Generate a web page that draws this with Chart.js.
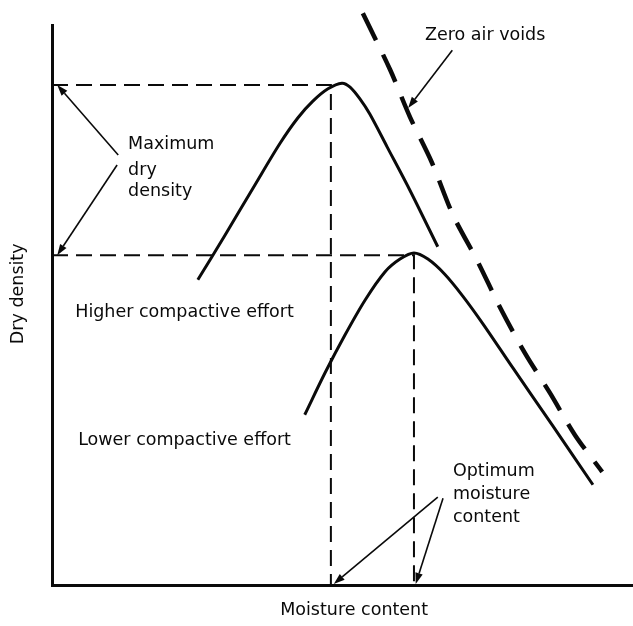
<!DOCTYPE html>
<html>
<head>
<meta charset="utf-8">
<script src="https://cdn.jsdelivr.net/npm/chart.js@4/dist/chart.umd.min.js"></script>
<style>
  html, body { margin: 0; padding: 0; background: #fff; }
  #wrap { width: 633px; height: 626px; }
</style>
</head>
<body>
<div id="wrap"><canvas id="c" width="633" height="626"></canvas></div>
<script>
// ---- Data (arbitrary units: moisture content 0-100, dry density 0-100) ----
const highMoisture = [25.1, 29.8, 34.9, 39.2, 42.3, 44.9, 47.5, 49.9, 51.3, 53.0, 54.7, 57.7, 61.6, 66.4];
const highDensity  = [54.5, 62.5, 71.4, 78.8, 83.4, 86.4, 88.6, 89.6, 88.9, 86.8, 84.1, 78.2, 70.5, 60.4];

const lowMoisture  = [43.5, 47.0, 50.4, 53.9, 57.3, 59.9, 62.3, 64.7, 67.6, 70.7, 74.2, 79.3, 86.2, 93.1];
const lowDensity   = [30.4, 37.9, 44.6, 50.9, 55.9, 58.2, 59.3, 58.2, 55.5, 51.6, 46.6, 38.8, 28.4, 17.9];

const zavMoisture  = [53.5, 58.2, 61.6, 65.4, 69.0, 73.3, 77.1, 81.4, 85.7, 90.0, 94.7];
const zavDensity   = [102.1, 92.0, 83.6, 75.4, 66.1, 57.7, 49.6, 41.4, 34.3, 26.8, 20.2];

const maxDryDensity   = [89.3, 58.9];   // higher effort, lower effort
const optimumMoisture = [48.0, 62.3];

const xTitle = "Moisture content";
const yTitle = "Dry density";

// ---- Helpers ----
const pts = (xs, ys) => xs.map((x, i) => ({ x: x, y: ys[i] }));
const guide = i => [
  { x: 0, y: maxDryDensity[i] },
  { x: optimumMoisture[i], y: maxDryDensity[i] },
  { x: optimumMoisture[i], y: 0 }
];

const FONT = '17.5px "DejaVu Sans", sans-serif';
const INK = '#0a0a0a';

// annotation layout (in data units)
const labels = [
  { text: "Zero air voids", x: 64.2, y: 98.2 },
  { text: "Maximum", x: 13.1, y: 78.6 },
  { text: "dry", x: 13.1, y: 74.1 },
  { text: "density", x: 13.1, y: 70.2 },
  { text: "Higher compactive effort", x: 4.0, y: 48.6 },
  { text: "Lower compactive effort", x: 4.5, y: 25.9 },
  { text: "Optimum", x: 69.0, y: 20.2 },
  { text: "moisture", x: 69.0, y: 16.1 },
  { text: "content", x: 69.0, y: 12.0 }
];
const arrows = [
  { from: [68.9, 95.5], to: [61.3, 85.2] },
  { from: [11.4, 76.8], to: [0.9, maxDryDensity[0]] },
  { from: [11.2, 75.0], to: [0.9, maxDryDensity[1]] },
  { from: [66.4, 15.7], to: [optimumMoisture[0] + 0.5, 0.2] },
  { from: [67.3, 15.5], to: [optimumMoisture[1] + 0.3, 0.2] }
];

const annotate = {
  id: 'annotate',
  afterDatasetsDraw(chart) {
    const { ctx, scales: { x, y }, chartArea } = chart;
    ctx.save();
    ctx.fillStyle = INK;
    ctx.strokeStyle = INK;
    ctx.font = FONT;
    ctx.textBaseline = 'middle';
    ctx.textAlign = 'left';
    labels.forEach(l => ctx.fillText(l.text, x.getPixelForValue(l.x), y.getPixelForValue(l.y)));

    // axis titles
    ctx.textAlign = 'center';
    ctx.fillText(xTitle, x.getPixelForValue(52.0), chartArea.bottom + 25);
    ctx.save();
    ctx.translate(chartArea.left - 34, y.getPixelForValue(52.0));
    ctx.rotate(-Math.PI / 2);
    ctx.fillText(yTitle, 0, 0);
    ctx.restore();

    // arrows
    ctx.lineWidth = 1.6;
    arrows.forEach(a => {
      const x1 = x.getPixelForValue(a.from[0]), y1 = y.getPixelForValue(a.from[1]);
      const x2 = x.getPixelForValue(a.to[0]), y2 = y.getPixelForValue(a.to[1]);
      const ang = Math.atan2(y2 - y1, x2 - x1);
      const L = 11, W = 3.8;
      const bx = x2 - L * Math.cos(ang), by = y2 - L * Math.sin(ang);
      ctx.beginPath();
      ctx.moveTo(x1, y1);
      ctx.lineTo(bx, by);
      ctx.stroke();
      ctx.beginPath();
      ctx.moveTo(x2, y2);
      ctx.lineTo(bx + W * Math.sin(ang), by - W * Math.cos(ang));
      ctx.lineTo(bx - W * Math.sin(ang), by + W * Math.cos(ang));
      ctx.closePath();
      ctx.fill();
    });
    ctx.restore();
  }
};

new Chart(document.getElementById('c'), {
  type: 'scatter',
  data: {
    datasets: [
      { label: 'Higher compactive effort', data: pts(highMoisture, highDensity), showLine: true,
        borderColor: INK, borderWidth: 3, pointRadius: 0, tension: 0.3 },
      { label: 'Lower compactive effort', data: pts(lowMoisture, lowDensity), showLine: true,
        borderColor: INK, borderWidth: 3, pointRadius: 0, tension: 0.3 },
      { label: 'Zero air voids', data: pts(zavMoisture, zavDensity), showLine: true, clip: false,
        borderColor: INK, borderWidth: 4.5, borderDash: [30, 16], pointRadius: 0, tension: 0.3 },
      { label: 'Max dry density / OMC (higher)', data: guide(0), showLine: true,
        borderColor: INK, borderWidth: 2, borderDash: [16, 8], pointRadius: 0, tension: 0 },
      { label: 'Max dry density / OMC (lower)', data: guide(1), showLine: true,
        borderColor: INK, borderWidth: 2, borderDash: [16, 8], pointRadius: 0, tension: 0 }
    ]
  },
  options: {
    responsive: false,
    animation: false,
    devicePixelRatio: 1,
    layout: { padding: { left: 52, right: 0, top: 25, bottom: 41 } },
    plugins: { legend: { display: false }, tooltip: { enabled: false } },
    scales: {
      x: {
        type: 'linear', min: 0, max: 100,
        grid: { display: false, drawTicks: false },
        ticks: { display: false },
        border: { display: true, color: INK, width: 3 },
        afterFit(s) { s.height = 0; }
      },
      y: {
        type: 'linear', min: 0, max: 100,
        grid: { display: false, drawTicks: false },
        ticks: { display: false },
        border: { display: true, color: INK, width: 3 },
        afterFit(s) { s.width = 0; }
      }
    }
  },
  plugins: [annotate]
});
</script>
</body>
</html>
